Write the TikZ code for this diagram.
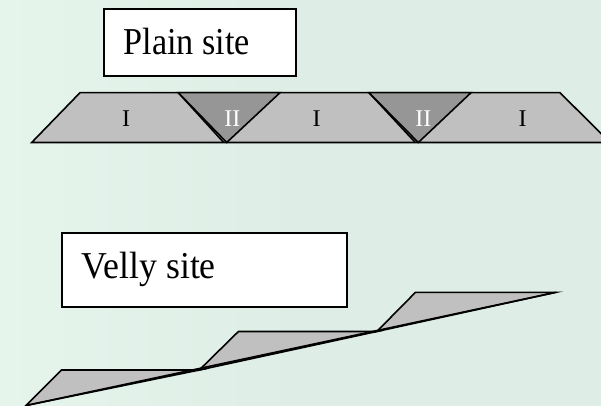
\documentclass[tikz,border=0pt]{standalone}
\usepackage{fontspec}
\setmainfont{Liberation Serif}
\usepackage{graphicx}
\definecolor{bgmint}{RGB}{222,237,229}
\definecolor{bglight}{RGB}{230,245,236}
\definecolor{soilgray}{RGB}{192,192,192}
\definecolor{cutgray}{RGB}{150,150,150}
\tikzset{
  sitebox/.style={draw=black, line width=2pt, fill=white, inner sep=0pt},
  boxtext/.style={inner sep=0pt, font=\fontsize{38}{40}\selectfont},
  zonetext/.style={inner sep=0pt, font=\fontsize{24}{26}\selectfont},
  soil/.style={draw=black, line width=1.6pt, fill=soilgray, line join=miter},
  cut/.style={draw=black, line width=1.6pt, fill=cutgray, line join=miter},
}
\begin{document}
\begin{tikzpicture}[x=1pt, y=-1pt]
  % background
  \useasboundingbox (0,0) rectangle (601,406);
  \shade[left color=bglight, right color=bgmint] (0,0) rectangle (300,406);
  \fill[bgmint] (299.5,0) rectangle (601,406);
  \clip (0,0) rectangle (601,406);

  % ---- plain site: terraced band with two cut wedges ----
  \coordinate (pbl) at (31.7,142.5);
  \coordinate (ptl) at (80,92.7);
  \coordinate (ptr) at (560,92.7);
  \coordinate (pbr) at (610,142.5);
  \coordinate (wa1) at (178.3,92.7);
  \coordinate (wb1) at (280,92.7);
  \coordinate (wc1) at (226.7,142.5);
  \coordinate (wa2) at (369,92.7);
  \coordinate (wb2) at (471,92.7);
  \coordinate (wc2) at (418.3,142.5);

  \draw[soil] (pbl) -- (ptl) -- (ptr) -- (pbr) -- cycle;
  \draw[black, line width=1.6pt] (wa1) -- ([xshift=-3pt]wc1);
  \draw[black, line width=1.6pt] (wa2) -- ([xshift=-3pt]wc2);
  \draw[cut] (wa1) -- (wb1) -- (wc1) -- cycle;
  \draw[cut] (wa2) -- (wb2) -- (wc2) -- cycle;

  \node[zonetext, anchor=base] (z1) at (126,126.7) {I};
  \node[zonetext, anchor=base, text=white] (z2) at (232.3,126.7) {II};
  \node[zonetext, anchor=base] (z3) at (316.5,126.7) {I};
  \node[zonetext, anchor=base, text=white] (z4) at (423.3,126.7) {II};
  \node[zonetext, anchor=base] (z5) at (522.7,126.7) {I};

  % ---- valley site: stepped slope ----
  \coordinate (v0) at (26,405.5);
  \coordinate (t1) at (61.5,370);
  \coordinate (v1) at (199.3,370);
  \coordinate (t2) at (238.4,331.5);
  \coordinate (v2) at (376.8,331.5);
  \coordinate (t3) at (415.5,292.3);
  \coordinate (v3) at (556,292.3);

  \draw[soil] (v0) -- (t1) -- (v1) -- cycle;
  \draw[soil] (v1) -- (t2) -- (v2) -- cycle;
  \draw[soil] (v2) -- (t3) -- (v3) -- cycle;
  \draw[black, line width=1.6pt, line cap=round] (v0) -- (v3);

  % ---- labels ----
  \node[sitebox, minimum width=191.7pt, minimum height=67pt] (plainbox) at (200.15,42.5) {};
  \node[boxtext, anchor=base west] (plainlbl) at (123.3,54.5) {\scalebox{0.9}[1]{Plain site}};

  \node[sitebox, minimum width=285pt, minimum height=74pt] (vellybox) at (204.2,270.3) {};
  \node[boxtext, anchor=base west] (vellylbl) at (81.7,278.3) {\scalebox{0.94}[1]{Velly site}};
\end{tikzpicture}
\end{document}
